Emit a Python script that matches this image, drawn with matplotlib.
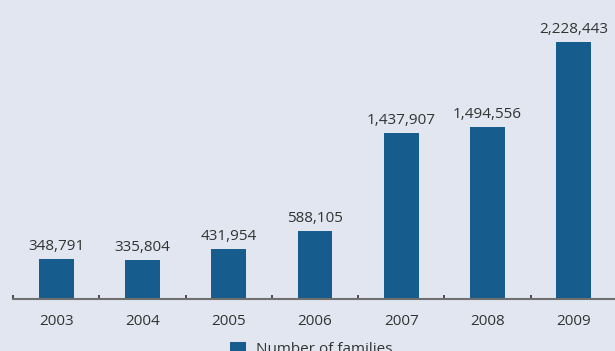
import matplotlib
matplotlib.use("Agg")
import matplotlib.pyplot as plt
from matplotlib.patches import Rectangle

years = ["2003", "2004", "2005", "2006", "2007", "2008", "2009"]
families = [348791, 335804, 431954, 588105, 1437907, 1494556, 2228443]
legend_label = "Number of families"

bg = "#e1e6f0"
bar_color = "#165c8c"
text_color = "#333333"
fs = 11

plt.rcParams['font.family'] = ['Open Sans', 'DejaVu Sans']

fig = plt.figure(figsize=(6.15, 3.51), dpi=100, facecolor=bg)
ax = fig.add_axes([13/615, 52/351, 604/615, 299/351], facecolor=bg)

x = list(range(len(years)))
ax.bar(x, families, width=0.405, color=bar_color, zorder=2)
ax.set_xlim(-0.5, len(years) - 0.5)
ax.set_ylim(0, 2228443 * 299 / 257)

for xi, v in zip(x, families):
    ax.annotate(f"{v:,}", (xi, v), xytext=(0, 6.5), textcoords="offset points",
                ha="center", va="baseline", fontsize=fs, color=text_color)

for s in ["top", "right", "left"]:
    ax.spines[s].set_visible(False)
ax.spines["bottom"].set_color("#707070")
ax.spines["bottom"].set_linewidth(1.5)
ax.set_yticks([])
ax.set_xticks(x)
ax.set_xticklabels(years, fontsize=fs, color=text_color)
ax.tick_params(axis="x", length=0, pad=11)
ax.set_xticks([i - 0.5 for i in range(len(years) + 1)], minor=True)
ax.tick_params(axis="x", which="minor", direction="in", length=3, width=1.2, color="#333333")

fig.patches.append(Rectangle((230/615, 0), 16/615, 9/351, transform=fig.transFigure,
                             facecolor=bar_color, edgecolor="none"))
fig.text(256/615, -2/351, legend_label, fontsize=fs, color=text_color, va="baseline", ha="left")

fig.savefig("out.png", dpi=100, facecolor=bg)
